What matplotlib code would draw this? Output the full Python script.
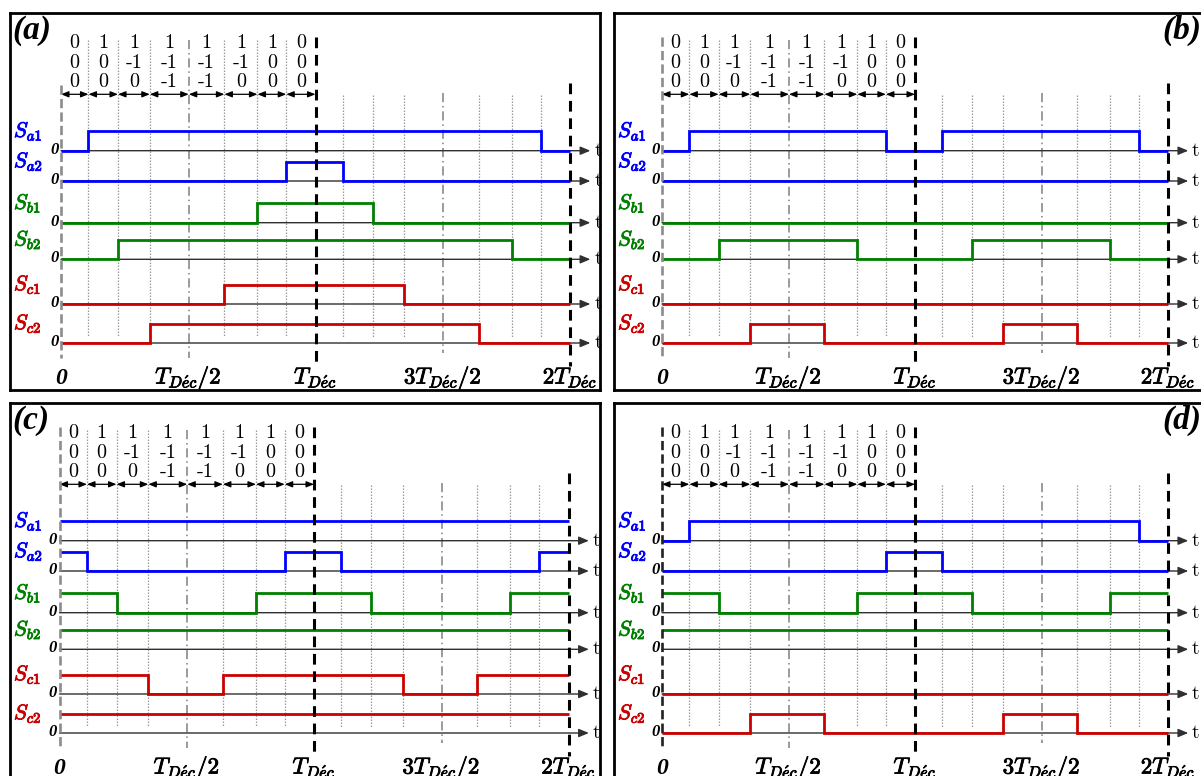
import matplotlib.pyplot as plt
import matplotlib.patheffects as pe

plt.rcParams['mathtext.fontset'] = 'cm'

# switching instants over two periods, in units of T_Déc
edges = [0, 0.108, 0.224, 0.349, 0.502, 0.642, 0.772, 0.885, 1.0,
         1.108, 1.224, 1.349, 1.502, 1.642, 1.772, 1.885, 2.0]

# states written above the first period (one column per sub-interval)
state_a = [0, 1, 1, 1, 1, 1, 1, 0]
state_b = [0, 0, -1, -1, -1, -1, 0, 0]
state_c = [0, 0, 0, -1, -1, 0, 0, 0]

names = ['a1', 'a2', 'b1', 'b2', 'c1', 'c2']
colors = ['#0000ff', '#0000ff', '#008000', '#008000', '#cc0000', '#cc0000']

# switch states per sub-interval (16 sub-intervals)
a_Sa1 = [0, 1, 1, 1, 1, 1, 1, 1, 1, 1, 1, 1, 1, 1, 1, 0]
a_Sa2 = [0, 0, 0, 0, 0, 0, 0, 1, 1, 0, 0, 0, 0, 0, 0, 0]
a_Sb1 = [0, 0, 0, 0, 0, 0, 1, 1, 1, 1, 0, 0, 0, 0, 0, 0]
a_Sb2 = [0, 0, 1, 1, 1, 1, 1, 1, 1, 1, 1, 1, 1, 1, 0, 0]
a_Sc1 = [0, 0, 0, 0, 0, 1, 1, 1, 1, 1, 1, 0, 0, 0, 0, 0]
a_Sc2 = [0, 0, 0, 1, 1, 1, 1, 1, 1, 1, 1, 1, 1, 0, 0, 0]

b_Sa1 = [0, 1, 1, 1, 1, 1, 1, 0, 0, 1, 1, 1, 1, 1, 1, 0]
b_Sa2 = [0] * 16
b_Sb1 = [0] * 16
b_Sb2 = [0, 0, 1, 1, 1, 1, 0, 0, 0, 0, 1, 1, 1, 1, 0, 0]
b_Sc1 = [0] * 16
b_Sc2 = [0, 0, 0, 1, 1, 0, 0, 0, 0, 0, 0, 1, 1, 0, 0, 0]

c_Sa1 = [1] * 16
c_Sa2 = [1, 0, 0, 0, 0, 0, 0, 1, 1, 0, 0, 0, 0, 0, 0, 1]
c_Sb1 = [1, 1, 0, 0, 0, 0, 1, 1, 1, 1, 0, 0, 0, 0, 1, 1]
c_Sb2 = [1] * 16
c_Sc1 = [1, 1, 1, 0, 0, 1, 1, 1, 1, 1, 1, 0, 0, 1, 1, 1]
c_Sc2 = [1] * 16

d_Sa1 = [0, 1, 1, 1, 1, 1, 1, 1, 1, 1, 1, 1, 1, 1, 1, 0]
d_Sa2 = [0, 0, 0, 0, 0, 0, 0, 1, 1, 0, 0, 0, 0, 0, 0, 0]
d_Sb1 = [1, 1, 0, 0, 0, 0, 1, 1, 1, 1, 0, 0, 0, 0, 1, 1]
d_Sb2 = [1] * 16
d_Sc1 = [0] * 16
d_Sc2 = [0, 0, 0, 1, 1, 0, 0, 0, 0, 0, 0, 1, 1, 0, 0, 0]

tick_pos = [0.5, 1.0, 1.5, 2.0]
tick_txt = [r'$T_{D\acute{e}c}/2$', r'$T_{D\acute{e}c}$',
            r'$3T_{D\acute{e}c}/2$', r'$2T_{D\acute{e}c}$']

# panel: label, box (left, top, right, bottom) in px, origin px, px per T,
# zero-line colour, zero-line top, label side, signals
panels = [
    ('(a)', (10, 13, 600, 390), 61, 254.5, '#8c8c8c', 72, 'left',
     [a_Sa1, a_Sa2, a_Sb1, a_Sb2, a_Sc1, a_Sc2]),
    ('(b)', (614, 13, 1212, 390), 662, 253, '#8c8c8c', 24, 'right',
     [b_Sa1, b_Sa2, b_Sb1, b_Sb2, b_Sc1, b_Sc2]),
    ('(c)', (10, 403, 600, 780), 59.5, 254.5, '#8c8c8c', 24, 'left',
     [c_Sa1, c_Sa2, c_Sb1, c_Sb2, c_Sc1, c_Sc2]),
    ('(d)', (614, 403, 1212, 780), 662, 253, '#222222', 24, 'right',
     [d_Sa1, d_Sa2, d_Sb1, d_Sb2, d_Sc1, d_Sc2]),
]

row_base = [137.7, 168, 209.7, 246.3, 291, 330]
amp = 19.5
W, H = 1201, 776

fig = plt.figure(figsize=(12.01, 7.76), dpi=100)

for label, box, x0, sT, zero_col, zero_top, lab_side, rows in panels:
    left, top, right, bottom = box
    ax = fig.add_axes([left / W, 1 - bottom / H, (right - left) / W, (bottom - top) / H])
    ax.set_xlim((left - x0) / sT, (right - x0) / sT)
    ax.set_ylim(bottom - top, 0)
    ax.set_xticks([])
    ax.set_yticks([])
    for s in ax.spines.values():
        s.set_linewidth(2)
        s.set_color('black')

    # vertical guides
    for e in edges:
        if e in (0.0, 1.0, 2.0):
            continue
        if e in (0.502, 1.502):
            y1 = 27 if e < 1 else 80
            ax.vlines(e, y1, 345 if e < 1 else 340, colors='#808080',
                      linestyles=(0, (6, 2.5, 1, 2.5)), lw=1.1, zorder=1)
        else:
            y1 = 27 if e < 1 else 82
            ax.vlines(e, y1, 324, colors='#9a9a9a', linestyles=(0, (1.2, 1.2)),
                      lw=0.9, zorder=1)
    ax.vlines(0, zero_top, 345, colors=zero_col, linestyles=(0, (3.5, 1.6)), lw=1.9, zorder=4)
    ax.vlines(1, 24, 350, colors='black', linestyles=(0, (3.5, 2.2)), lw=2.2, zorder=4)
    ax.vlines(2, 70, 353, colors='black', linestyles=(0, (3.5, 2.2)), lw=2.2, zorder=4)

    # state columns and interval arrows
    for j in range(8):
        xm = (edges[j] + edges[j + 1]) / 2
        for yy, st in zip([29.7, 49.7, 68.7], [state_a[j], state_b[j], state_c[j]]):
            ax.text(xm, yy, str(st), ha='center', va='center', fontsize=14.5,
                    fontfamily='cmr10')
        ax.annotate('', xy=(edges[j + 1], 81.3), xytext=(edges[j], 81.3),
                    arrowprops=dict(arrowstyle='<|-|>,head_length=0.45,head_width=0.18',
                                    color='black', lw=0.9, shrinkA=0, shrinkB=0))

    # switching signals
    for k, lev in enumerate(rows):
        base = row_base[k]
        col = colors[k]
        ax.annotate('', xy=(2.08, base), xytext=(0, base),
                    arrowprops=dict(arrowstyle='-|>,head_length=0.6,head_width=0.25',
                                    color='#303030', lw=1.0, shrinkA=0, shrinkB=0), zorder=2)
        ax.stairs([base - amp * v for v in lev], edges, baseline=None,
                  color=col, lw=2.0, zorder=3)
        ax.text(2.095, base, 't', ha='left', va='center', fontsize=14, fontfamily='cmr10')
        ax.text(-2.5 / sT, base - 1, '0', ha='right', va='center', fontsize=12,
                fontfamily='Liberation Serif', style='italic', weight='bold')
        ax.text((left + 4 - x0) / sT, base - 19, f'$S_{{{names[k]}}}$', ha='left',
                va='center', fontsize=15, color=col,
                path_effects=[pe.withStroke(linewidth=0.7, foreground=col)])

    # time labels
    ax.text(0, 365, '0', ha='center', va='center', fontsize=17,
            fontfamily='Liberation Serif', style='italic', weight='bold')
    for xp, tt in zip(tick_pos, tick_txt):
        ax.text(xp, 365, tt, ha='center', va='center', fontsize=16.5,
                path_effects=[pe.withStroke(linewidth=0.6, foreground='black')])

    if lab_side == 'left':
        ax.text((left + 2 - x0) / sT, 17, label, ha='left', va='center', fontsize=24,
                fontfamily='Liberation Serif', style='italic', weight='bold')
    else:
        ax.text((1201 - x0) / sT, 17, label, ha='right', va='center', fontsize=24,
                fontfamily='Liberation Serif', style='italic', weight='bold')

fig.savefig('out.png', dpi=100)
